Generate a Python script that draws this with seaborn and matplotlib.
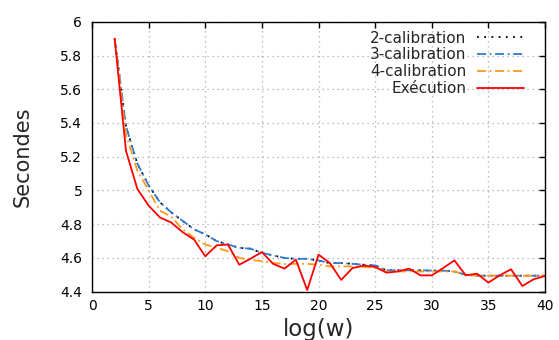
import numpy as np
import pandas as pd
import matplotlib
matplotlib.use("Agg")
import matplotlib.pyplot as plt
import seaborn as sns

# Data (x = log(w) from 2 to 40)
log_w = list(range(2, 41))

execution = [5.90, 5.235, 5.01, 4.91, 4.84, 4.81, 4.753, 4.71, 4.61, 4.675,
             4.68, 4.56, 4.596, 4.635, 4.565, 4.537, 4.59, 4.41, 4.62, 4.57,
             4.47, 4.54, 4.555, 4.547, 4.513, 4.52, 4.537, 4.497, 4.497, 4.54,
             4.586, 4.497, 4.507, 4.454, 4.497, 4.533, 4.434, 4.474, 4.493]

calib2 = [5.90, 5.38, 5.16, 5.03, 4.93, 4.87, 4.82, 4.77, 4.74, 4.70,
          4.68, 4.66, 4.655, 4.63, 4.615, 4.60, 4.595, 4.595, 4.585, 4.57,
          4.57, 4.565, 4.56, 4.556, 4.527, 4.527, 4.527, 4.527, 4.525, 4.525,
          4.52, 4.50, 4.495, 4.495, 4.495, 4.495, 4.495, 4.495, 4.495]

calib3 = [5.90, 5.38, 5.16, 5.03, 4.93, 4.87, 4.82, 4.77, 4.74, 4.70,
          4.68, 4.66, 4.655, 4.63, 4.615, 4.60, 4.595, 4.595, 4.585, 4.57,
          4.57, 4.565, 4.56, 4.556, 4.527, 4.527, 4.527, 4.527, 4.525, 4.525,
          4.52, 4.50, 4.495, 4.495, 4.495, 4.495, 4.495, 4.495, 4.495]

calib4 = [5.90, 5.33, 5.12, 5.00, 4.88, 4.845, 4.77, 4.72, 4.68, 4.66,
          4.64, 4.60, 4.59, 4.58, 4.57, 4.565, 4.565, 4.565, 4.56, 4.55,
          4.55, 4.55, 4.547, 4.54, 4.52, 4.52, 4.52, 4.52, 4.52, 4.52,
          4.52, 4.50, 4.495, 4.495, 4.495, 4.495, 4.495, 4.495, 4.495]

df = pd.DataFrame({"log_w": log_w, "execution": execution,
                   "calib2": calib2, "calib3": calib3, "calib4": calib4})

sns.set_style("white")
plt.rcParams['font.family'] = ['DejaVu Sans']

fig = plt.figure(figsize=(5.59, 3.40), dpi=100)
ax = fig.add_axes([0.1646, 0.142, 0.975 - 0.1646, 0.936 - 0.142])

sns.lineplot(data=df, x="log_w", y="calib2", ax=ax, color="black",
             linestyle=(0, (1, 3)), lw=1.3, label="2-calibration")
sns.lineplot(data=df, x="log_w", y="calib3", ax=ax, color="#2f7bd0",
             linestyle=(0, (5, 2, 1, 2)), lw=1.3, label="3-calibration")
sns.lineplot(data=df, x="log_w", y="calib4", ax=ax, color="#ff9a1a",
             linestyle=(0, (5, 2, 1, 2)), lw=1.3, label="4-calibration")
sns.lineplot(data=df, x="log_w", y="execution", ax=ax, color="#ff0000",
             lw=1.3, label="Exécution")

ax.set_xlim(0, 40)
ax.set_ylim(4.4, 6.0)
ax.set_xticks(np.arange(0, 41, 5))
ax.set_yticks(np.round(np.arange(4.4, 6.01, 0.2), 1))
ax.set_yticklabels(["4.4", "4.6", "4.8", "5", "5.2", "5.4", "5.6", "5.8", "6"])

ax.grid(True, color="#a8a8a8", linestyle=(0, (1, 3)), lw=0.9)
ax.tick_params(direction="in", length=4, width=1, top=True, right=True,
               labelsize=10, colors="black")
ax.tick_params(axis="y", pad=7)
ax.tick_params(axis="x", pad=5)
for s in ax.spines.values():
    s.set_color("black")
    s.set_linewidth(1.0)

ax.set_xlabel("log(w)", fontsize=16.5, labelpad=4)
ax.set_ylabel("Secondes", fontsize=15, labelpad=20)

leg = ax.legend(loc="upper right", bbox_to_anchor=(0.968, 0.99),
                frameon=False, markerfirst=False,
                fontsize=11, handlelength=3.1, labelspacing=0.12,
                borderaxespad=0, handletextpad=0.7)

fig.savefig("out.png", dpi=100)
